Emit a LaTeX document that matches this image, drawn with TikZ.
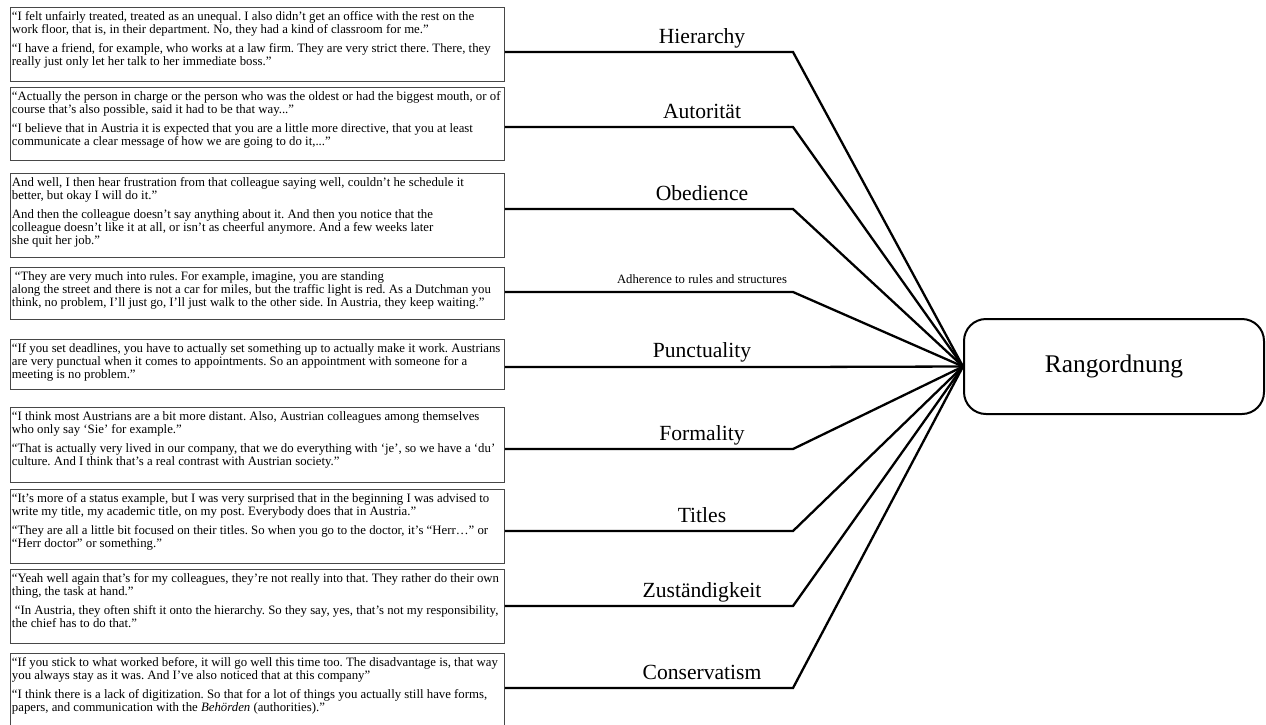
\documentclass[tikz,border=0pt]{standalone}
\usepackage{fontspec}
\setmainfont{Liberation Serif}
\newcommand{\qtext}[2]{\makebox[491pt][l]{\parbox[c][#1][t]{600pt}{\fontsize{12.8pt}{13pt}\selectfont\frenchspacing\setlength{\parskip}{6pt}\setlength{\parindent}{0pt}#2}}}
\tikzset{
  qbox/.style={draw=black!72, line width=0.9pt, inner xsep=1.5pt, inner ysep=4pt, anchor=north west},
  conn/.style={line width=2.3pt, black},
  lab/.style={font=\fontsize{21.6pt}{24pt}\selectfont, anchor=base, inner sep=0pt},
  smalllab/.style={font=\fontsize{12.7pt}{14pt}\selectfont, anchor=base, inner sep=0pt},
  mainbox/.style={draw, line width=2pt, rounded corners=22pt, minimum width=300pt, minimum height=95pt, font=\fontsize{25.4pt}{28pt}\selectfont}
}
\begin{document}
\begin{tikzpicture}[x=1pt,y=-1pt]
\clip (0,0) rectangle (1266,724);
\fill[white] (0,0) rectangle (1266,724);

\node[qbox] (q1) at (10,7) {\qtext{66pt}{“I felt unfairly treated, treated as an unequal. I also didn’t get an office with the rest on the\\
work floor, that is, in their department. No, they had a kind of classroom for me.”\par
“I have a friend, for example, who works at a law firm. They are very strict there. There, they\\
really just only let her talk to her immediate boss.”}};

\node[qbox] (q2) at (10,87) {\qtext{65pt}{“Actually the person in charge or the person who was the oldest or had the biggest mouth, or of\\
course that’s also possible, said it had to be that way...”\par
“I believe that in Austria it is expected that you are a little more directive, that you at least\\
communicate a clear message of how we are going to do it,...”}};

\node[qbox] (q3) at (10,173) {\qtext{76pt}{And well, I then hear frustration from that colleague saying well, couldn’t he schedule it\\
better, but okay I will do it.”\par
And then the colleague doesn’t say anything about it. And then you notice that the\\
colleague doesn’t like it at all, or isn’t as cheerful anymore. And a few weeks later\\
she quit her job.”}};

\node[qbox] (q4) at (10,267) {\qtext{44pt}{\hspace{3pt}“They are very much into rules. For example, imagine, you are standing\\
along the street and there is not a car for miles, but the traffic light is red. As a Dutchman you\\
think, no problem, I’ll just go, I’ll just walk to the other side. In Austria, they keep waiting.”}};

\node[qbox] (q5) at (10,339) {\qtext{42pt}{“If you set deadlines, you have to actually set something up to actually make it work. Austrians\\
are very punctual when it comes to appointments. So an appointment with someone for a\\
meeting is no problem.”}};

\node[qbox] (q6) at (10,407) {\qtext{67pt}{“I think most Austrians are a bit more distant. Also, Austrian colleagues among themselves\\
who only say ‘Sie’ for example.”\par
“That is actually very lived in our company, that we do everything with ‘je’, so we have a ‘du’\\
culture. And I think that’s a real contrast with Austrian society.”}};

\node[qbox] (q7) at (10,489) {\qtext{66pt}{“It’s more of a status example, but I was very surprised that in the beginning I was advised to\\
write my title, my academic title, on my post. Everybody does that in Austria.”\par
“They are all a little bit focused on their titles. So when you go to the doctor, it’s “Herr…” or\\
“Herr doctor” or something.”}};

\node[qbox] (q8) at (10,569) {\qtext{66pt}{“Yeah well again that’s for my colleagues, they’re not really into that. They rather do their own\\
thing, the task at hand.”\par
\hspace{3pt}“In Austria, they often shift it onto the hierarchy. So they say, yes, that’s not my responsibility,\\
the chief has to do that.”}};

\node[qbox] (q9) at (10,653) {\qtext{72pt}{“If you stick to what worked before, it will go well this time too. The disadvantage is, that way\\
you always stay as it was. And I’ve also noticed that at this company”\par
“I think there is a lack of digitization. So that for a lot of things you actually still have forms,\\
papers, and communication with the \textit{Behörden} (authorities).”}};

\node[mainbox] (R) at (1114,366.5) {Rangordnung};

\coordinate (k1) at (793,52);
\coordinate (k2) at (793,127);
\coordinate (k3) at (793,209);
\coordinate (k4) at (793,292);
\coordinate (k5) at (793,367);
\coordinate (k6) at (793,449);
\coordinate (k7) at (793,531);
\coordinate (k8) at (793,606);
\coordinate (k9) at (793,688);

\foreach \i in {1,...,9}{
  \draw[conn] (q\i.east |- k\i) -- (k\i) -- (R.west);
}

\node[lab] (l1) at (702,43) {Hierarchy};
\node[lab] (l2) at (702,118) {Autorität};
\node[lab] (l3) at (702,200) {Obedience};
\node[smalllab] (l4) at (702,283) {Adherence to rules and structures};
\node[lab] (l5) at (702,357.5) {Punctuality};
\node[lab] (l6) at (702,440) {Formality};
\node[lab] (l7) at (702,522) {Titles};
\node[lab] (l8) at (702,597) {Zuständigkeit};
\node[lab] (l9) at (702,679) {Conservatism};
\end{tikzpicture}
\end{document}
